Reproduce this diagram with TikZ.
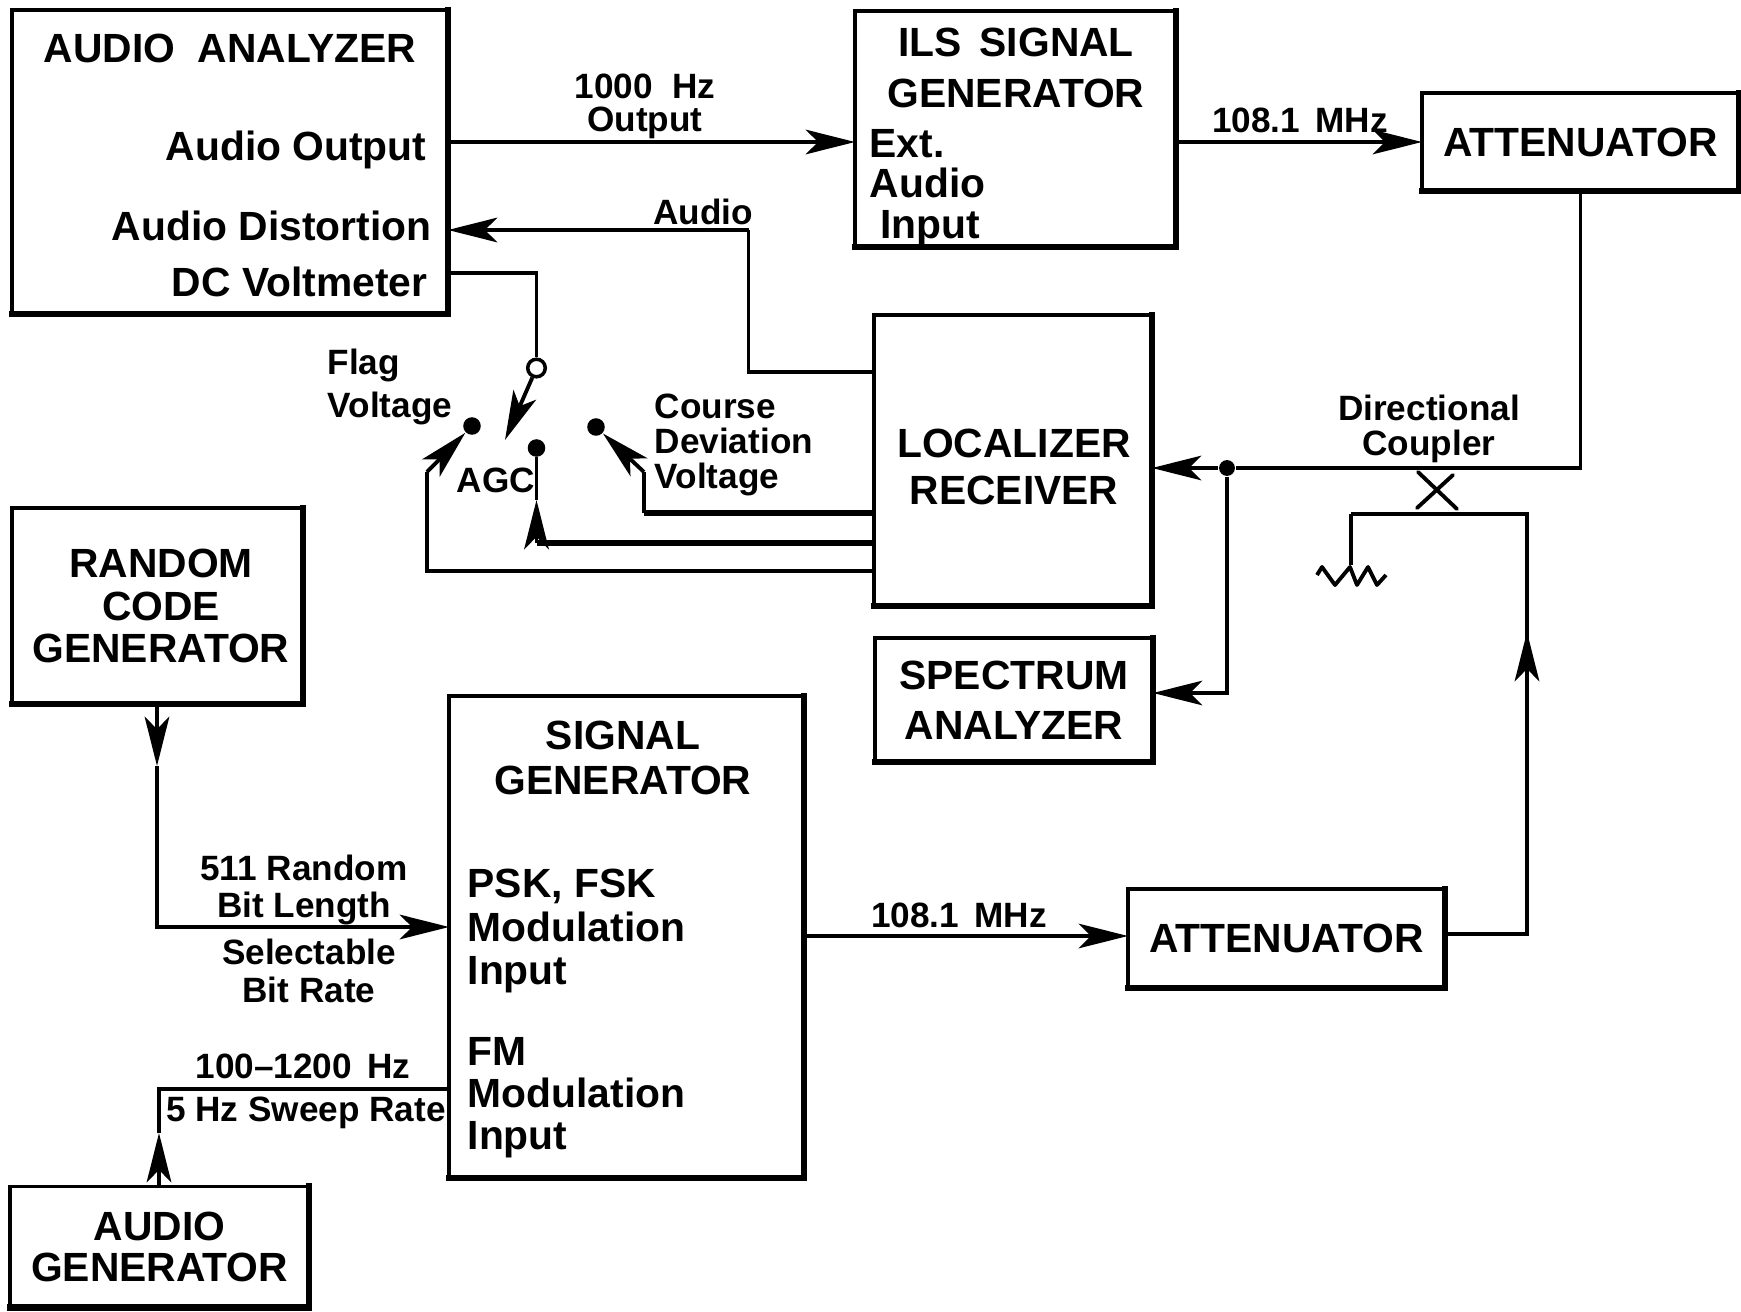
\documentclass[tikz,border=0pt]{standalone}
\usepackage{fontspec}
\setmainfont{Liberation Sans}
\usetikzlibrary{arrows.meta}
\newcommand{\tightlines}{\lineskiplimit=-20pt\relax}
\begin{document}
\begin{tikzpicture}[x=0.01cm, y=-0.01cm,
    >={Stealth[length=14pt,width=7pt,inset=3.5pt]},
    box/.style={draw, line width=1pt, inner sep=0pt, outer sep=0pt, align=center,
      font=\fontsize{11.6}{#1}\selectfont\bfseries\tightlines,
      append after command={\pgfextra{\draw[line width=1.9pt, line cap=rect]
        (\tikzlastnode.north east) -- (\tikzlastnode.south east) -- (\tikzlastnode.south west);}}},
    box/.default=12,
    txt/.style={inner sep=0pt, align=left, font=\fontsize{11.6}{#1}\selectfont\bfseries\tightlines},
    txt/.default=12,
    lab/.style={inner sep=0pt, align=center, font=\fontsize{10}{#1}\selectfont\bfseries\tightlines},
    lab/.default=10,
    pin/.style={circle, fill, inner sep=0pt, minimum size=5pt},
    hub/.style={circle, draw, fill=white, line width=1pt, inner sep=0pt, minimum size=5pt},
    link/.style={line width=1.1pt, line join=miter},
    heavy/.style={line width=1.8pt},
    edge/.style={->, line width=1.1pt}]

  \useasboundingbox (0,0) rectangle (1741,1312);

  \node[box, minimum width=4.36cm, minimum height=3.04cm] (aa)  at (230,162)    {};
  \node[box, minimum width=3.21cm, minimum height=2.36cm] (ils) at (1015.5,129) {};
  \node[box, minimum width=3.17cm, minimum height=0.98cm] (atn) at (1580.5,142) {ATTENUATOR};
  \node[box, minimum width=2.78cm, minimum height=2.91cm] (loc) at (1013,460.5) {};
  \node[box=14.3, minimum width=2.78cm, minimum height=1.24cm] (spa) at (1014,700) {SPECTRUM\\ANALYZER};
  \node[box, minimum width=2.91cm, minimum height=1.96cm] (rcg) at (157.5,606) {};
  \node[box, minimum width=3.55cm, minimum height=4.82cm] (sig) at (626.5,937)  {};
  \node[box, minimum width=3.17cm, minimum height=0.99cm] (atb) at (1286.5,938.5) {ATTENUATOR};
  \node[box=11.7, minimum width=2.99cm, minimum height=1.21cm] (agn) at (159.5,1247) {AUDIO\\GENERATOR};

  \node[txt] (aat) at (230,48) {AUDIO\ \ ANALYZER};
  \node[txt, anchor=east] (aao) at (427,150) {Audio\ Output};
  \node[txt, anchor=east] (aad) at (432,226) {Audio Distortion};
  \node[txt, anchor=east] (aav) at (428,282) {DC Voltmeter};
  \node[txt=14.3, align=center] (ilt) at (1016,68) {ILS\ \,SIGNAL\\GENERATOR};
  \node[txt=11.6, anchor=west] (ile) at (869,188) {Ext.\\Audio\\\hspace*{3pt}Input};
  \node[txt=13.2, align=center] (lct) at (1014,467) {LOCALIZER\\RECEIVER};
  \node[txt=12.2, align=center] (rct) at (161,606) {RANDOM\\CODE\\GENERATOR};
  \node[txt=12.6, align=center] (sgt) at (623,758) {SIGNAL\\GENERATOR};
  \node[txt=12.3, anchor=west] (sgp) at (467,931) {PSK, FSK\\Modulation\\Input};
  \node[txt=11.9, anchor=west] (sgm) at (467,1098) {FM\\Modulation\\Input};

  \node[lab=9.4] (lk1) at (645,106)  {1000\ \ Hz\\Output};
  \node[lab] (lf1) at (1300,120) {108.1\ \,MHz};
  \node[lab] (lau) at (703,212)  {Audio};
  \node[lab=12, align=left, anchor=west] (lfl) at (327,387) {Flag\\Voltage};
  \node[lab] (lag) at (496,480)  {AGC};
  \node[lab, align=left, anchor=west] (lco) at (654,445) {Course\\Deviation\\Voltage};
  \node[lab] (ldc) at (1429,429) {Directional\\Coupler};
  \node[lab=10.3] (lbl) at (304,890)  {511 Random\\Bit Length};
  \node[lab=10.6] (lbr) at (309,971)    {Selectable\\Bit Rate};
  \node[lab] (lfm) at (303,1066) {100--1200\ \,Hz};
  \node[lab] (lsw) at (306,1113) {5 Hz Sweep Rate};
  \node[lab] (lf2) at (959,915)  {108.1\ \,MHz};

  \node[hub] (pvt) at (536.5,368) {};
  \node[pin] (pfl) at (472,426)   {};
  \node[pin] (pag) at (536.5,448) {};
  \node[pin] (pco) at (596,427)   {};
  \node[pin, minimum size=4.5pt] (tee) at (1227,468) {};

  \coordinate (ilsin) at (855,142);
  \coordinate (audio) at (448,230);
  \coordinate (dcv)   at (448,273);
  \coordinate (rx)    at (873,372);
  \coordinate (rxfl)  at (873,571);
  \coordinate (rxag)  at (873,543);
  \coordinate (rxco)  at (873,513);
  \coordinate (tip)   at (505,440);
  \coordinate (flb)   at (427,472);
  \coordinate (cob)   at (644,472);
  \coordinate (agf)   at (536.5,543);
  \coordinate (agb)   at (536.5,500);
  \coordinate (rcb)   at (157,766);
  \coordinate (sgi)   at (449,927);
  \coordinate (sgf)   at (449,1089);
  \coordinate (agu)   at (159,1133);
  \coordinate (sgo)   at (804,936);
  \coordinate (ato)   at (1445,934);
  \coordinate (upb)   at (1527,632);
  \coordinate (cpl)   at (1351,514);
  \coordinate (res)   at (1351,565);

  \draw[edge] (aa.east |- ilsin) -- (ilsin);
  \draw[edge] (ils.east |- ilsin) -- (atn.west |- ilsin);
  \draw[link] (rx) -| (748.5,230) coordinate (aub);
  \draw[edge] (aub) -- (audio);
  \draw[link] (dcv) -| (pvt);
  \draw[edge] (pvt) -- (tip);

  \draw[link] (atn.south) |- (tee);
  \draw[edge] (tee) -- (loc.east |- tee);
  \draw[edge] (tee) |- (spa.east |- 0,693);

  \draw[link] (rxfl) -| (flb);
  \draw[edge] (flb) -- (pfl);
  \draw[link, heavy] (rxag) -- (agf);
  \draw[edge] (agf) -- (agb);
  \draw[link] (agb) -- (pag);
  \draw[link, heavy] (rxco) -- (cob |- rxco);
  \draw[link] (cob |- rxco) -- (cob);
  \draw[edge] (cob) -- (pco);

  \draw[edge] (rcg.south -| rcb) -- (rcb);
  \draw[link] (rcb) |- (380,927) coordinate (sga);
  \draw[edge] (sga) -- (sgi);
  \draw[link] (sgf) -| (agu);
  \draw[edge] (agn.north -| agu) -- (agu);

  \draw[edge] (sgo) -- (atb.west |- sgo);
  \draw[link] (ato) -| (upb);
  \draw[edge] (ato -| upb) -- (upb);
  \draw[link] (upb) |- (cpl);
  \draw[link] (cpl) -- (res);

  \draw[link, line cap=round] (1418,472) -- (1457,509);
  \draw[link, line cap=round] (1453,475) -- (1417,508);
  \draw[link, line join=round] (1317,575) -- (1322,567) -- (1335,585) -- (1350,567)
    -- (1357,585) -- (1368,567) -- (1377,585) -- (1386,575);
\end{tikzpicture}
\end{document}
